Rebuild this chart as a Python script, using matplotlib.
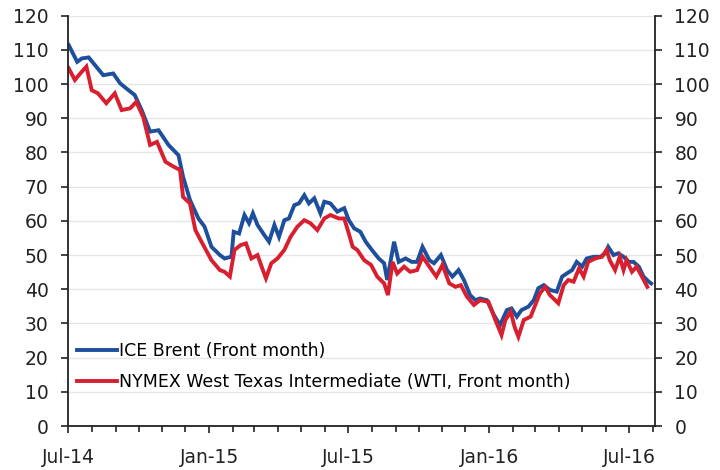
"""Brent vs WTI front-month oil prices, Jul 2014 - Jul 2016."""

import numpy as np
import pandas as pd
import matplotlib.pyplot as plt
import matplotlib.dates as mdates

# ICE Brent (front month), USD/bbl
brent_dates = [
    "2014-07-02", "2014-07-13", "2014-07-19", "2014-07-28", "2014-08-05", "2014-08-16",
    "2014-08-29", "2014-09-07", "2014-09-18", "2014-09-26", "2014-10-05", "2014-10-16",
    "2014-10-27", "2014-11-09", "2014-11-22", "2014-11-28", "2014-12-07", "2014-12-18",
    "2014-12-26", "2015-01-04", "2015-01-15", "2015-01-21", "2015-01-30", "2015-02-02",
    "2015-02-09", "2015-02-16", "2015-02-22", "2015-02-27", "2015-03-05", "2015-03-14",
    "2015-03-20", "2015-03-27", "2015-04-02", "2015-04-09", "2015-04-15", "2015-04-22",
    "2015-04-28", "2015-05-05", "2015-05-11", "2015-05-18", "2015-05-26", "2015-05-31",
    "2015-06-08", "2015-06-17", "2015-06-26", "2015-07-02", "2015-07-09", "2015-07-17",
    "2015-07-24", "2015-08-01", "2015-08-10", "2015-08-17", "2015-08-21", "2015-08-30",
    "2015-09-05", "2015-09-14", "2015-09-22", "2015-09-29", "2015-10-06", "2015-10-15",
    "2015-10-21", "2015-10-30", "2015-11-07", "2015-11-14", "2015-11-22", "2015-11-29",
    "2015-12-07", "2015-12-14", "2015-12-20", "2015-12-29", "2016-01-07", "2016-01-15",
    "2016-01-24", "2016-01-30", "2016-02-06", "2016-02-12", "2016-02-21", "2016-02-28",
    "2016-03-05", "2016-03-12", "2016-03-20", "2016-03-29", "2016-04-05", "2016-04-11",
    "2016-04-18", "2016-04-24", "2016-05-01", "2016-05-07", "2016-05-16", "2016-05-25",
    "2016-05-31", "2016-06-04", "2016-06-11", "2016-06-17", "2016-06-24", "2016-07-01",
    "2016-07-07", "2016-07-14", "2016-07-20", "2016-07-27", "2016-07-30",
]
brent_values = [
    111.4, 106.5, 107.5, 107.8, 105.6, 102.6,
    103.1, 100.2, 98.2, 96.8, 92.4, 86.1,
    86.5, 82.2, 79.2, 72.9, 66.1, 60.7,
    58.3, 52.4, 50.0, 49.0, 49.5, 56.8,
    56.3, 61.7, 59.3, 62.2, 58.8, 55.8,
    53.9, 58.8, 55.3, 60.2, 60.7, 64.6,
    65.1, 67.5, 65.1, 66.6, 62.2, 65.6,
    65.1, 62.7, 63.7, 60.2, 57.8, 56.8,
    53.9, 51.5, 49.0, 47.6, 42.7, 53.9,
    48.0, 49.0, 48.0, 48.0, 52.4, 48.5,
    47.6, 50.0, 45.6, 43.7, 45.6, 42.7,
    38.3, 36.8, 37.3, 36.8, 32.5, 29.5,
    33.9, 34.4, 32.0, 33.9, 34.9, 36.8,
    40.3, 41.2, 39.8, 39.3, 43.7, 44.6,
    45.6, 48.0, 46.6, 49.0, 49.5, 49.5,
    50.5, 52.4, 50.0, 50.5, 49.5, 48.0,
    48.0, 46.6, 43.7, 42.2, 41.7,
]

# NYMEX WTI (front month), USD/bbl
wti_dates = [
    "2014-07-02", "2014-07-10", "2014-07-17", "2014-07-25", "2014-08-01", "2014-08-09",
    "2014-08-20", "2014-08-31", "2014-09-09", "2014-09-20", "2014-09-28", "2014-10-07",
    "2014-10-16", "2014-10-25", "2014-11-05", "2014-11-16", "2014-11-24", "2014-11-28",
    "2014-12-07", "2014-12-14", "2014-12-22", "2015-01-04", "2015-01-15", "2015-01-21",
    "2015-01-28", "2015-02-03", "2015-02-11", "2015-02-18", "2015-02-25", "2015-03-05",
    "2015-03-12", "2015-03-16", "2015-03-23", "2015-03-31", "2015-04-09", "2015-04-17",
    "2015-04-26", "2015-05-05", "2015-05-13", "2015-05-22", "2015-05-31", "2015-06-08",
    "2015-06-19", "2015-06-26", "2015-07-02", "2015-07-07", "2015-07-13", "2015-07-22",
    "2015-07-31", "2015-08-08", "2015-08-17", "2015-08-22", "2015-08-28", "2015-09-03",
    "2015-09-12", "2015-09-20", "2015-09-29", "2015-10-06", "2015-10-15", "2015-10-24",
    "2015-11-01", "2015-11-10", "2015-11-18", "2015-11-25", "2015-12-03", "2015-12-12",
    "2015-12-20", "2015-12-31", "2016-01-09", "2016-01-17", "2016-01-22", "2016-01-29",
    "2016-02-03", "2016-02-08", "2016-02-15", "2016-02-24", "2016-03-01", "2016-03-07",
    "2016-03-14", "2016-03-20", "2016-03-31", "2016-04-07", "2016-04-13", "2016-04-20",
    "2016-04-27", "2016-05-03", "2016-05-09", "2016-05-18", "2016-05-27", "2016-06-02",
    "2016-06-06", "2016-06-13", "2016-06-19", "2016-06-24", "2016-06-28", "2016-07-05",
    "2016-07-11", "2016-07-18", "2016-07-25",
]
wti_values = [
    104.6, 101.2, 103.1, 105.1, 98.2, 97.3,
    94.4, 97.3, 92.4, 92.9, 94.8, 90.4,
    82.2, 83.1, 77.3, 75.8, 74.9, 67.0,
    65.1, 57.3, 53.9, 48.5, 45.6, 45.1,
    43.7, 51.5, 52.9, 53.4, 49.0, 50.0,
    45.6, 43.2, 47.6, 49.0, 51.5, 55.3,
    58.3, 60.2, 59.3, 57.3, 60.7, 61.7,
    60.7, 60.7, 56.3, 52.4, 51.5, 48.5,
    47.1, 43.7, 41.7, 38.3, 48.0, 44.6,
    46.6, 45.1, 45.6, 49.5, 46.6, 43.7,
    47.1, 41.7, 40.7, 41.2, 37.8, 35.4,
    36.8, 36.3, 31.0, 26.6, 31.0, 33.4,
    29.0, 26.1, 31.0, 32.0, 35.4, 38.8,
    40.7, 38.3, 35.9, 41.2, 42.7, 42.2,
    46.1, 43.7, 48.0, 49.0, 49.5, 51.5,
    48.5, 45.6, 49.5, 45.6, 48.5, 45.1,
    46.6, 43.7, 40.7,
]

series_labels = ["ICE Brent (Front month)", "NYMEX West Texas Intermediate (WTI, Front month)"]
series_colors = ["#1d4f9c", "#d81f2f"]

fig = plt.figure(figsize=(7.2, 4.7), dpi=100)
ax = fig.add_axes([0.0944, 0.0936, 0.8153, 0.873])

ax.plot(pd.to_datetime(brent_dates), brent_values, color=series_colors[0],
        lw=2.8, label=series_labels[0], solid_joinstyle="miter")
ax.plot(pd.to_datetime(wti_dates), wti_values, color=series_colors[1],
        lw=2.8, label=series_labels[1], solid_joinstyle="miter")

ax.set_ylim(0, 120)
ax.set_yticks(np.arange(0, 121, 10))
ax.set_xlim(pd.Timestamp("2014-07-01"), pd.Timestamp("2016-08-04"))

ax.xaxis.set_major_locator(mdates.MonthLocator(bymonth=[1, 7]))
ax.xaxis.set_major_formatter(mdates.DateFormatter("%b-%y"))
ax.xaxis.set_minor_locator(mdates.MonthLocator())

# horizontal gridlines only
for v in np.arange(10, 121, 10):
    ax.axhline(v, color="#e6e6e6", lw=1.0, zorder=0)

for side in ["left", "right", "bottom"]:
    ax.spines[side].set_linewidth(1.3)
    ax.spines[side].set_color("#222222")
ax.spines["top"].set_visible(False)

ax.tick_params(axis="y", which="both", left=True, right=True, labelleft=True,
               labelright=True, direction="out", length=5, width=1.2,
               pad=9, labelsize=13.5, colors="#222222")
ax.tick_params(axis="x", which="major", direction="out", length=5, width=1.2,
               pad=11, labelsize=13.5, colors="#222222")
ax.tick_params(axis="x", which="minor", direction="out", length=4, width=1.2,
               colors="#222222")

ax.legend(loc="lower left", bbox_to_anchor=(0.015, 0.085), frameon=False,
          fontsize=12.5, handlelength=2.3, handletextpad=0.15, labelspacing=0.75,
          borderpad=0, borderaxespad=0)

fig.savefig("out.png", dpi=100, facecolor="white")
plt.close(fig)
